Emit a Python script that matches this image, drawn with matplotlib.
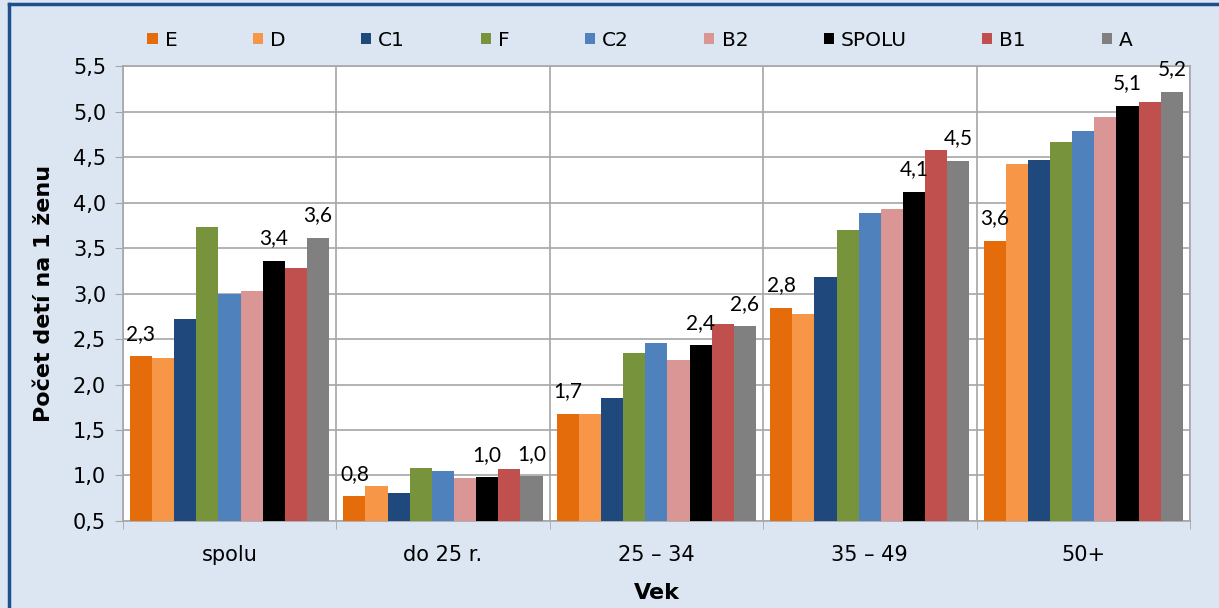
import matplotlib
matplotlib.use("Agg")
import matplotlib.pyplot as plt
import numpy as np
from matplotlib.lines import Line2D

categories = ["spolu", "do 25 r.", "25 – 34", "35 – 49", "50+"]
series = ["E", "D", "C1", "F", "C2", "B2", "SPOLU", "B1", "A"]
colors = ["#E46C0A", "#F79646", "#1F497D", "#77933C", "#4F81BD",
          "#D99694", "#000000", "#C0504D", "#808080"]

E = [2.31, 0.77, 1.68, 2.84, 3.58]
D = [2.29, 0.88, 1.68, 2.77, 4.42]
C1 = [2.72, 0.81, 1.85, 3.18, 4.47]
F = [3.73, 1.08, 2.35, 3.70, 4.66]
C2 = [3.00, 1.05, 2.46, 3.88, 4.79]
B2 = [3.03, 0.97, 2.27, 3.93, 4.94]
SPOLU = [3.36, 0.98, 2.43, 4.12, 5.06]
B1 = [3.28, 1.07, 2.67, 4.58, 5.10]
A = [3.61, 0.99, 2.64, 4.46, 5.22]
values = [E, D, C1, F, C2, B2, SPOLU, B1, A]
labeled = ["E", "SPOLU", "A"]

yticks = [0.5, 1.0, 1.5, 2.0, 2.5, 3.0, 3.5, 4.0, 4.5, 5.0, 5.5]
ytick_labels = ["0,5", "1,0", "1,5", "2,0", "2,5", "3,0", "3,5", "4,0", "4,5", "5,0", "5,5"]

bg = "#DCE6F2"
grid_c = "#A6A6A6"

fig = plt.figure(figsize=(12.19, 6.08), dpi=100, facecolor=bg)
ax = fig.add_axes([0.1007, 0.1431, 0.9762 - 0.1007, 0.8914 - 0.1431])
ax.set_facecolor("white")

n = len(series)
group_w = 0.934
bw = group_w / n
x = np.arange(len(categories))
for i, (name, vals, col) in enumerate(zip(series, values, colors)):
    pos = x - group_w / 2 + bw * (i + 0.5)
    ax.bar(pos, np.array(vals) - 0.5, bottom=0.5, width=bw, color=col,
           label=name, linewidth=0, zorder=3)
    if name in labeled:
        for p, v in zip(pos, vals):
            ax.annotate(f"{v:.1f}".replace(".", ","), (p, v), xytext=(0, 9),
                        textcoords="offset points", ha="center", va="bottom",
                        fontsize=15, family="Lato", color="#000000", zorder=4)

ax.set_xlim(-0.5, len(categories) - 0.5)
ax.set_ylim(0.5, 5.5)
ax.set_yticks(yticks)
ax.set_yticklabels(ytick_labels)
ax.set_xticks(x)
ax.set_xticklabels(categories)
ax.set_xticks(np.arange(len(categories) + 1) - 0.5, minor=True)

ax.tick_params(axis="y", which="major", length=6, color=grid_c, pad=6,
               labelsize=15, labelcolor="#000000")
ax.tick_params(axis="x", which="major", length=0, pad=17, labelsize=15,
               labelcolor="#000000")
ax.tick_params(axis="x", which="minor", length=6, color=grid_c)

ax.grid(axis="y", which="major", color=grid_c, linewidth=1.2, zorder=0)
ax.grid(axis="x", which="minor", color=grid_c, linewidth=1.2, zorder=0)
ax.grid(axis="x", which="major", visible=False)
for s in ax.spines.values():
    s.set_color(grid_c)
    s.set_linewidth(1.2)

ax.set_ylabel("Počet detí na 1 ženu", fontsize=16, fontweight="bold", labelpad=14)
ax.set_xlabel("Vek", fontsize=16, fontweight="bold", labelpad=13)

leg = fig.legend(loc="center", bbox_to_anchor=(0.525, 0.934), ncol=n, frameon=False,
                 fontsize=14.5, handlelength=0.5, handleheight=0.5,
                 handletextpad=0.35, columnspacing=3.75)

# outer border
fig.add_artist(Line2D([9 / 1219, 1.0], [1 - 4 / 608, 1 - 4 / 608],
                      transform=fig.transFigure, color="#1F4E8C", linewidth=2.5))
fig.add_artist(Line2D([9 / 1219, 9 / 1219], [0.0, 1 - 4 / 608],
                      transform=fig.transFigure, color="#1F4E8C", linewidth=2.5))

fig.savefig("out.png", dpi=100, facecolor=bg)
